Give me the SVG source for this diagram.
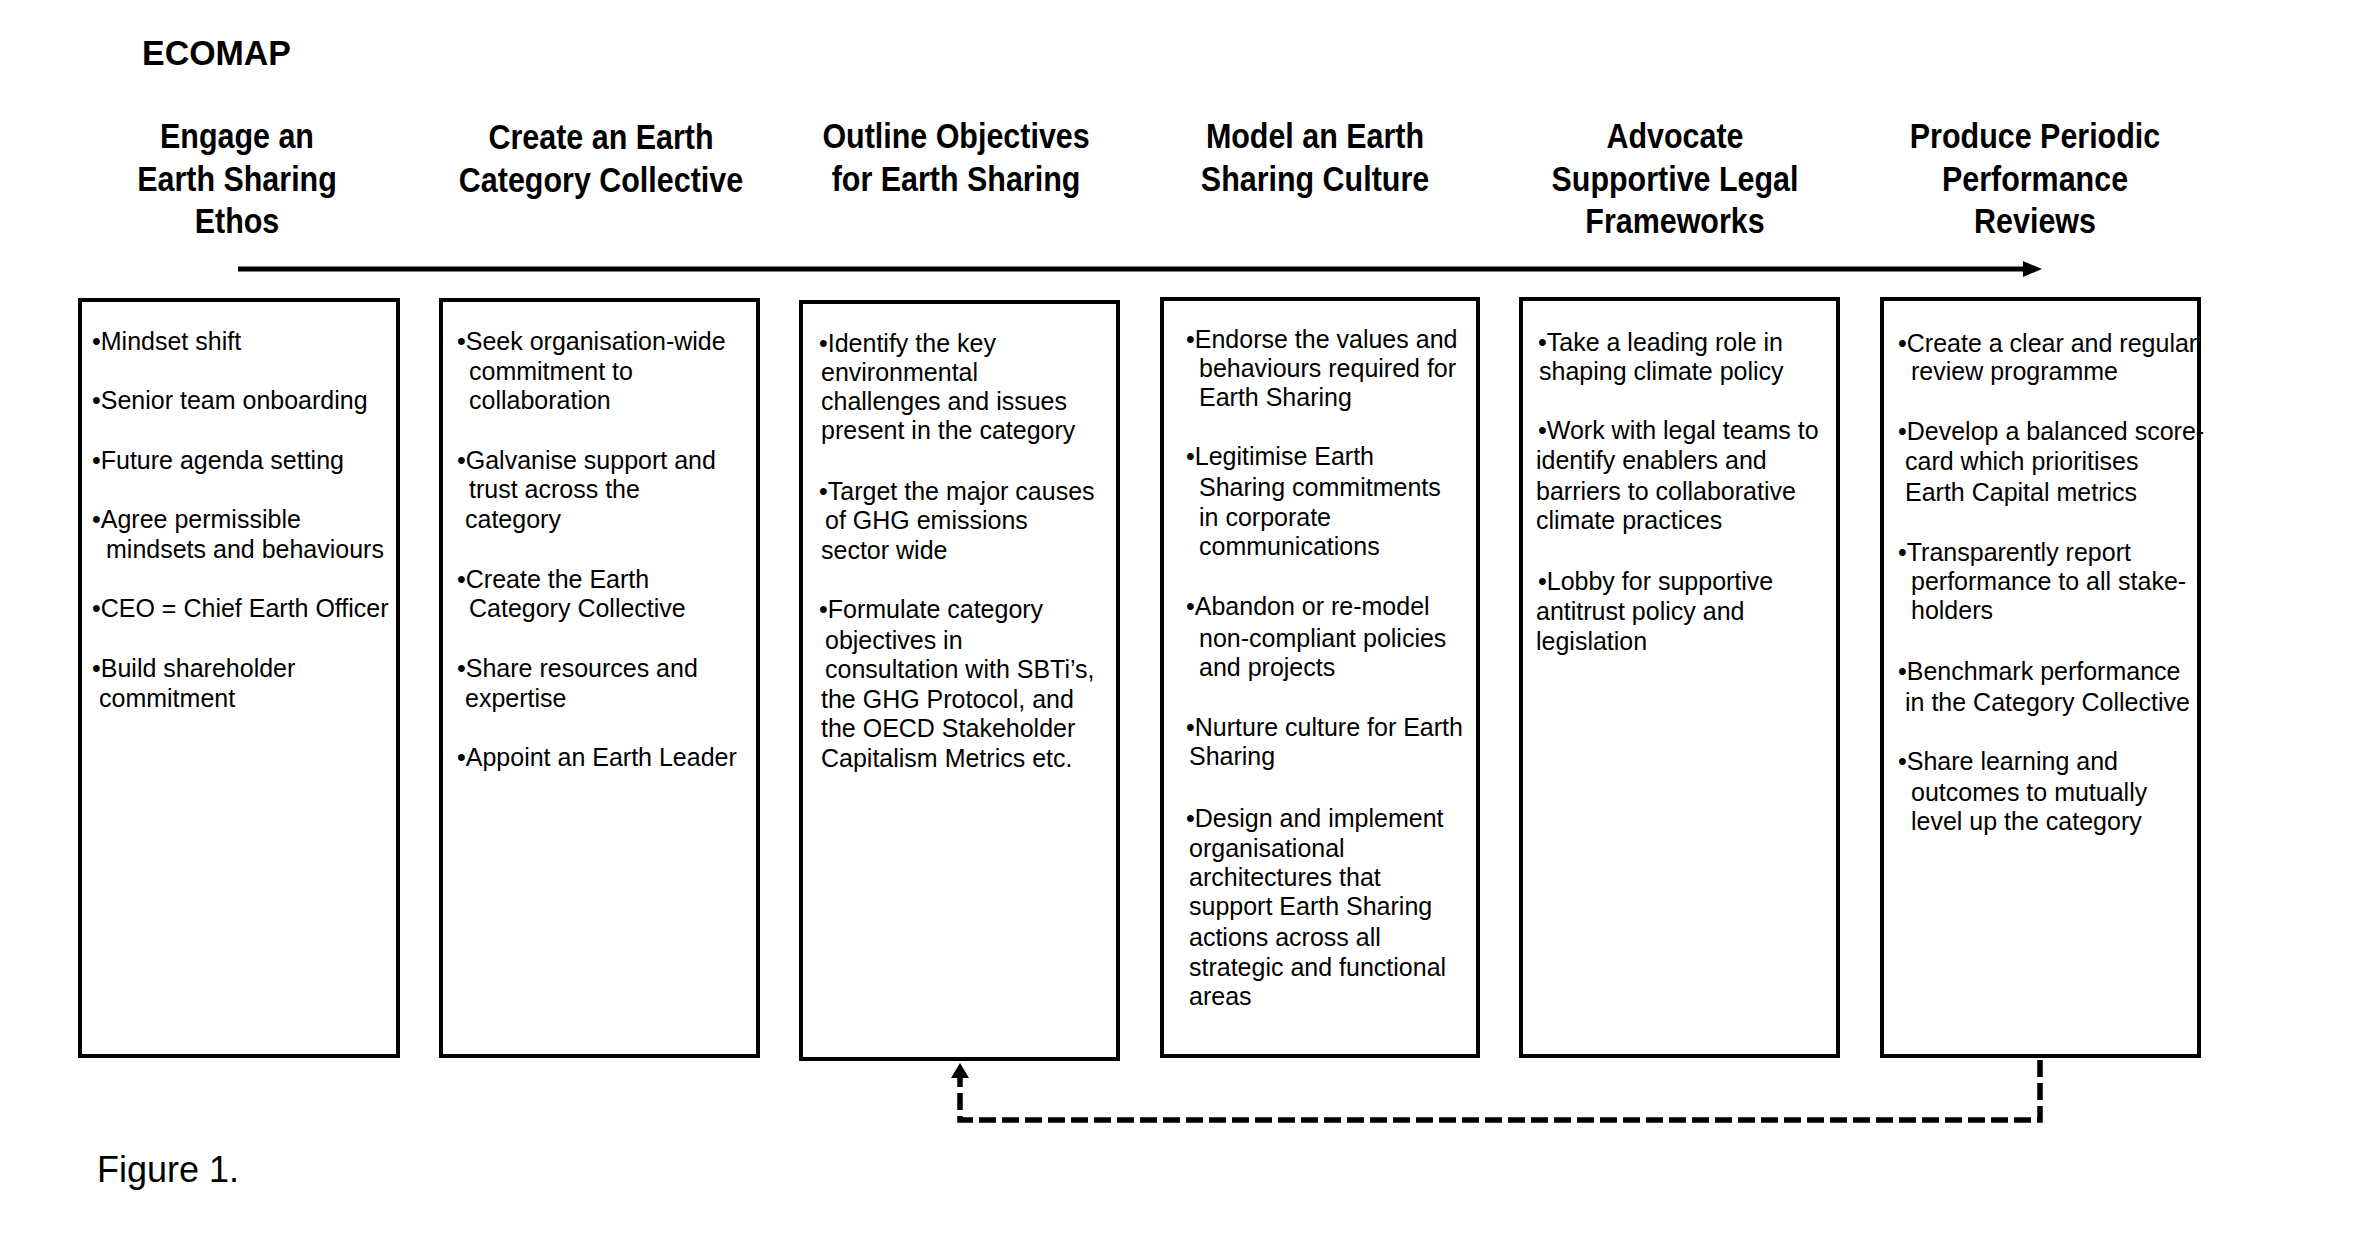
<svg xmlns="http://www.w3.org/2000/svg" width="2360" height="1244" viewBox="0 0 2360 1244">
<style>
text{font-family:"Liberation Sans",Arial,sans-serif;fill:#000}
.t{font-size:35px;font-weight:bold}
.h{font-size:35px;font-weight:bold;text-anchor:middle}
.b{font-size:25px}
.f{font-size:37px}
.box{fill:#fff;stroke:#000;stroke-width:4}
.conn{fill:none;stroke:#000;stroke-width:5}
.dash{fill:none;stroke:#000;stroke-width:5.5;stroke-dasharray:17 6}
</style>
<defs>
<marker id="ah" markerUnits="userSpaceOnUse" markerWidth="20" markerHeight="16" refX="0" refY="8" orient="auto"><path d="M0,0 L19,8 L0,16 z" fill="#000"/></marker>
<marker id="ah2" markerUnits="userSpaceOnUse" markerWidth="16" markerHeight="18" refX="0" refY="9" orient="auto"><path d="M0,0 L15,9 L0,18 z" fill="#000"/></marker>
</defs>
<rect width="2360" height="1244" fill="#fff"/>
<text class="t" transform="translate(142 65) scale(0.97 1)">ECOMAP</text>
<g id="headings" transform="scale(0.87 1)">
<text class="h" x="272.4" y="148">Engage an</text>
<text class="h" x="272.4" y="191">Earth Sharing</text>
<text class="h" x="272.4" y="233">Ethos</text>
<text class="h" x="690.8" y="149">Create an Earth</text>
<text class="h" x="690.8" y="192">Category Collective</text>
<text class="h" x="1098.9" y="148">Outline Objectives</text>
<text class="h" x="1098.9" y="191">for Earth Sharing</text>
<text class="h" x="1511.5" y="148">Model an Earth</text>
<text class="h" x="1511.5" y="191">Sharing Culture</text>
<text class="h" x="1925.3" y="148">Advocate</text>
<text class="h" x="1925.3" y="191">Supportive Legal</text>
<text class="h" x="1925.3" y="233">Frameworks</text>
<text class="h" x="2339.1" y="148">Produce Periodic</text>
<text class="h" x="2339.1" y="191">Performance</text>
<text class="h" x="2339.1" y="233">Reviews</text>
</g>
<g id="connectors">
<line class="conn" x1="238" y1="269" x2="2023" y2="269" marker-end="url(#ah)"/>
<path class="dash" d="M2040,1060 V1120 H960 V1078" marker-end="url(#ah2)"/>
</g>
<g id="node1">
<rect class="box" x="80" y="300" width="318" height="756"/>
<text class="b" x="92" y="350">•Mindset shift</text>
<text class="b" x="92" y="409">•Senior team onboarding</text>
<text class="b" x="92" y="469">•Future agenda setting</text>
<text class="b" x="92" y="528">•Agree permissible</text>
<text class="b" x="106" y="558">mindsets and behaviours</text>
<text class="b" x="92" y="617">•CEO = Chief Earth Officer</text>
<text class="b" x="92" y="677">•Build shareholder</text>
<text class="b" x="99" y="707">commitment</text>
</g>
<g id="node2">
<rect class="box" x="441" y="300" width="317" height="756"/>
<text class="b" x="457" y="350">•Seek organisation-wide</text>
<text class="b" x="469" y="380">commitment to</text>
<text class="b" x="469" y="409">collaboration</text>
<text class="b" x="457" y="469">•Galvanise support and</text>
<text class="b" x="469" y="498">trust across the</text>
<text class="b" x="465" y="528">category</text>
<text class="b" x="457" y="588">•Create the Earth</text>
<text class="b" x="469" y="617">Category Collective</text>
<text class="b" x="457" y="677">•Share resources and</text>
<text class="b" x="465" y="707">expertise</text>
<text class="b" x="457" y="766">•Appoint an Earth Leader</text>
</g>
<g id="node3">
<rect class="box" x="801" y="302" width="317" height="757"/>
<text class="b" x="819" y="352">•Identify the key</text>
<text class="b" x="821" y="381">environmental</text>
<text class="b" x="821" y="410">challenges and issues</text>
<text class="b" x="821" y="439">present in the category</text>
<text class="b" x="819" y="500">•Target the major causes</text>
<text class="b" x="825" y="529">of GHG emissions</text>
<text class="b" x="821" y="559">sector wide</text>
<text class="b" x="819" y="618">•Formulate category</text>
<text class="b" x="825" y="649">objectives in</text>
<text class="b" x="825" y="678">consultation with SBTi’s,</text>
<text class="b" x="821" y="708">the GHG Protocol, and</text>
<text class="b" x="821" y="737">the OECD Stakeholder</text>
<text class="b" x="821" y="767">Capitalism Metrics etc.</text>
</g>
<g id="node4">
<rect class="box" x="1162" y="299" width="316" height="757"/>
<text class="b" x="1186" y="348">•Endorse the values and</text>
<text class="b" x="1199" y="377">behaviours required for</text>
<text class="b" x="1199" y="406">Earth Sharing</text>
<text class="b" x="1186" y="465">•Legitimise Earth</text>
<text class="b" x="1199" y="496">Sharing commitments</text>
<text class="b" x="1199" y="526">in corporate</text>
<text class="b" x="1199" y="555">communications</text>
<text class="b" x="1186" y="615">•Abandon or re-model</text>
<text class="b" x="1199" y="647">non-compliant policies</text>
<text class="b" x="1199" y="676">and projects</text>
<text class="b" x="1186" y="736">•Nurture culture for Earth</text>
<text class="b" x="1189" y="765">Sharing</text>
<text class="b" x="1186" y="827">•Design and implement</text>
<text class="b" x="1189" y="857">organisational</text>
<text class="b" x="1189" y="886">architectures that</text>
<text class="b" x="1189" y="915">support Earth Sharing</text>
<text class="b" x="1189" y="946">actions across all</text>
<text class="b" x="1189" y="976">strategic and functional</text>
<text class="b" x="1189" y="1005">areas</text>
</g>
<g id="node5">
<rect class="box" x="1521" y="299" width="317" height="757"/>
<text class="b" x="1538" y="351">•Take a leading role in</text>
<text class="b" x="1539" y="380">shaping climate policy</text>
<text class="b" x="1538" y="439">•Work with legal teams to</text>
<text class="b" x="1536" y="469">identify enablers and</text>
<text class="b" x="1536" y="500">barriers to collaborative</text>
<text class="b" x="1536" y="529">climate practices</text>
<text class="b" x="1538" y="590">•Lobby for supportive</text>
<text class="b" x="1536" y="620">antitrust policy and</text>
<text class="b" x="1536" y="650">legislation</text>
</g>
<g id="node6">
<rect class="box" x="1882" y="299" width="317" height="757"/>
<text class="b" x="1898" y="352">•Create a clear and regular</text>
<text class="b" x="1911" y="380">review programme</text>
<text class="b" x="1898" y="440">•Develop a balanced score-</text>
<text class="b" x="1905" y="470">card which prioritises</text>
<text class="b" x="1905" y="501">Earth Capital metrics</text>
<text class="b" x="1898" y="561">•Transparently report</text>
<text class="b" x="1911" y="590">performance to all stake-</text>
<text class="b" x="1911" y="619">holders</text>
<text class="b" x="1898" y="680">•Benchmark performance</text>
<text class="b" x="1905" y="711">in the Category Collective</text>
<text class="b" x="1898" y="770">•Share learning and</text>
<text class="b" x="1911" y="801">outcomes to mutually</text>
<text class="b" x="1911" y="830">level up the category</text>
</g>
<text class="f" transform="translate(97 1182) scale(0.973 1)">Figure 1.</text>
</svg>
